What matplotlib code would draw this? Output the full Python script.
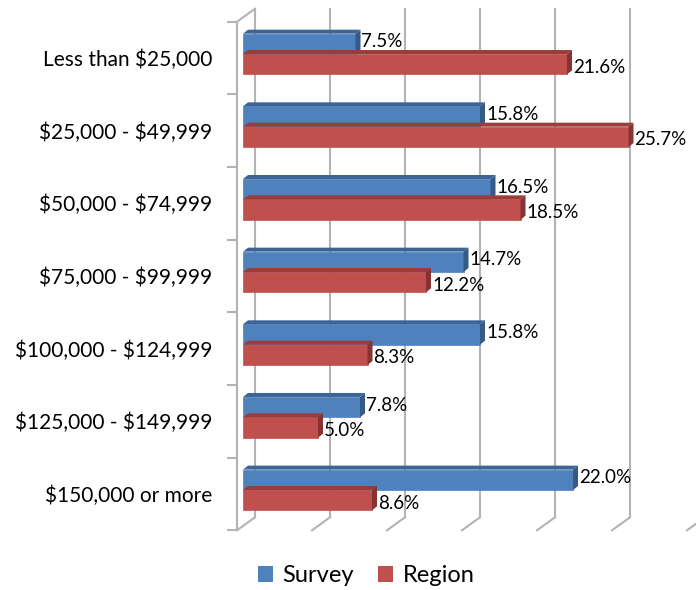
import matplotlib
matplotlib.use("Agg")
import matplotlib.pyplot as plt
from matplotlib.patches import Polygon, Patch
from matplotlib.lines import Line2D
import numpy as np

categories = ["Less than $25,000", "$25,000 - $49,999", "$50,000 - $74,999",
              "$75,000 - $99,999", "$100,000 - $124,999", "$125,000 - $149,999",
              "$150,000 or more"]
survey = [7.5, 15.8, 16.5, 14.7, 15.8, 7.8, 22.0]
region = [21.6, 25.7, 18.5, 12.2, 8.3, 5.0, 8.6]
series_names = ["Survey", "Region"]
x_max = 30
grid_step = 5

plt.rcParams['font.family'] = ['Lato', 'DejaVu Sans']
plt.rcParams['text.parse_math'] = False

W, H = 696, 590
fig = plt.figure(figsize=(W / 100, H / 100), dpi=100)

# bar plane axes (pixels)
x0_px, x1_px = 243, 693
ytop_px, ybot_px = 17.7, 526.3
ax = fig.add_axes([x0_px / W, 1 - ybot_px / H, (x1_px - x0_px) / W, (ybot_px - ytop_px) / H])
n = len(categories)
ax.set_xlim(0, x_max)
ax.set_ylim(n - 0.5, -0.5)
for s in ax.spines.values():
    s.set_visible(False)
ax.set_xticks([])

sx = (x1_px - x0_px) / x_max          # px per %
sy = (ybot_px - ytop_px) / n          # px per category


def off(dx_px, dy_up_px):
    return dx_px / sx, -dy_up_px / sy


grid_col = "#b3b3b3"
lw = 1.5

# back wall gridlines and floor diagonals
bdx, bdy = off(12, 9)
fdx, fdy = off(-6, -4)
ytop, ybot = -0.5, n - 0.5
for gx in np.arange(0, x_max + 0.01, grid_step):
    ax.add_line(Line2D([gx + bdx, gx + bdx], [ytop + bdy, ybot + bdy], color=grid_col, lw=lw,
                       clip_on=False, zorder=0.5))
    ax.add_line(Line2D([gx + bdx, gx + fdx], [ybot + bdy, ybot + fdy], color=grid_col, lw=lw,
                       clip_on=False, zorder=0.5))
# left wall: front axis line and top diagonal
ax.add_line(Line2D([fdx, fdx], [ytop + fdy, ybot + fdy], color=grid_col, lw=lw, clip_on=False, zorder=0.5))
ax.add_line(Line2D([fdx, bdx], [ytop + fdy, ytop + bdy], color=grid_col, lw=lw, clip_on=False, zorder=0.5))
tdx, _ = off(-9, 0)
for b in np.arange(n + 1) - 0.5:
    ax.add_line(Line2D([fdx + tdx, fdx], [b + fdy, b + fdy], color=grid_col, lw=lw, clip_on=False, zorder=0.5))

# bars
h = 0.28
offs = [-0.14, 0.14]
label_dy = [2, -3]
cols = ["#4F81BD", "#C0504D"]
tops = ["#3C6496", "#9A3D3A"]
sides = ["#355A88", "#873331"]
ddx, ddy = off(5, 4)
y = np.arange(n)
for k in [1, 0]:
    vals = survey if k == 0 else region
    yc = y + offs[k]
    ax.barh(yc, vals, height=h, color=cols[k], zorder=2 + k * 2, edgecolor=cols[k], lw=0.5)
    for yi, v in zip(yc, vals):
        t = yi - h / 2
        b = yi + h / 2
        top = Polygon([[0, t], [v, t], [v + ddx, t + ddy], [0 + ddx, t + ddy]], closed=True,
                      facecolor=tops[k], edgecolor='none', zorder=2 + k * 2)
        side = Polygon([[v, t], [v + ddx, t + ddy], [v + ddx, b + ddy], [v, b]], closed=True,
                       facecolor=sides[k], edgecolor='none', zorder=2 + k * 2 + 0.5)
        ax.add_patch(top)
        ax.add_patch(side)
        lx, _ = off(6, 0)
        ax.text(v + lx, yi + off(0, label_dy[k])[1], f"{v:.1f}%", va='center', ha='left',
                fontsize=13.5, color="black", zorder=10, clip_on=False)

# category labels
ax.set_yticks(y + off(0, -4)[1], categories)
ax.tick_params(axis='y', length=0, pad=22, labelsize=15)

# legend
handles = [Patch(facecolor=cols[0], edgecolor='none'), Patch(facecolor=cols[1], edgecolor='none')]
fig.legend(handles, series_names, loc='center', bbox_to_anchor=(366 / W, 1 - 576 / H), ncol=2,
           frameon=False, fontsize=17, handlelength=0.65, handleheight=0.65, handletextpad=0.4,
           columnspacing=1.0)

fig.savefig("out.png", dpi=100)
